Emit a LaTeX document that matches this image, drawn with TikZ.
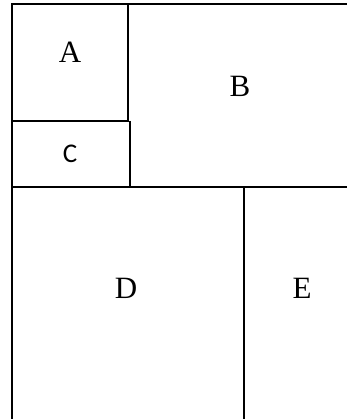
\documentclass[tikz,border=0pt]{standalone}
\usepackage{fontspec}
\setmainfont{Liberation Serif}
\newfontfamily\calib{Carlito}
\begin{document}
\begin{tikzpicture}[x=1pt,y=-1pt,
  wall/.style={line width=2pt,black},
  lbl/.style={inner sep=0pt,font=\fontsize{31}{36}\selectfont},
  lblsans/.style={inner sep=0pt,font=\calib\fontsize{27}{32}\selectfont}]
\useasboundingbox[fill=white] (0,0) rectangle (347,419);
% outer frame
\draw[wall] (12,419) -- (12,4) -- (347,4);
% A box
\draw[wall] (128,4) -- (128,121) -- (12,121);
% C box
\draw[wall] (130,121) -- (130,187);
\draw[wall] (12,187) -- (347,187);
% D / E split
\draw[wall] (244,187) -- (244,419);
% labels
\node[lbl] (A) at (70,52) {A};
\node[lbl] (B) at (240,86) {B};
\node[lblsans] (C) at (70,154) {C};
\node[lbl] (D) at (126,288) {D};
\node[lbl] (E) at (302,288) {E};
\end{tikzpicture}
\end{document}
